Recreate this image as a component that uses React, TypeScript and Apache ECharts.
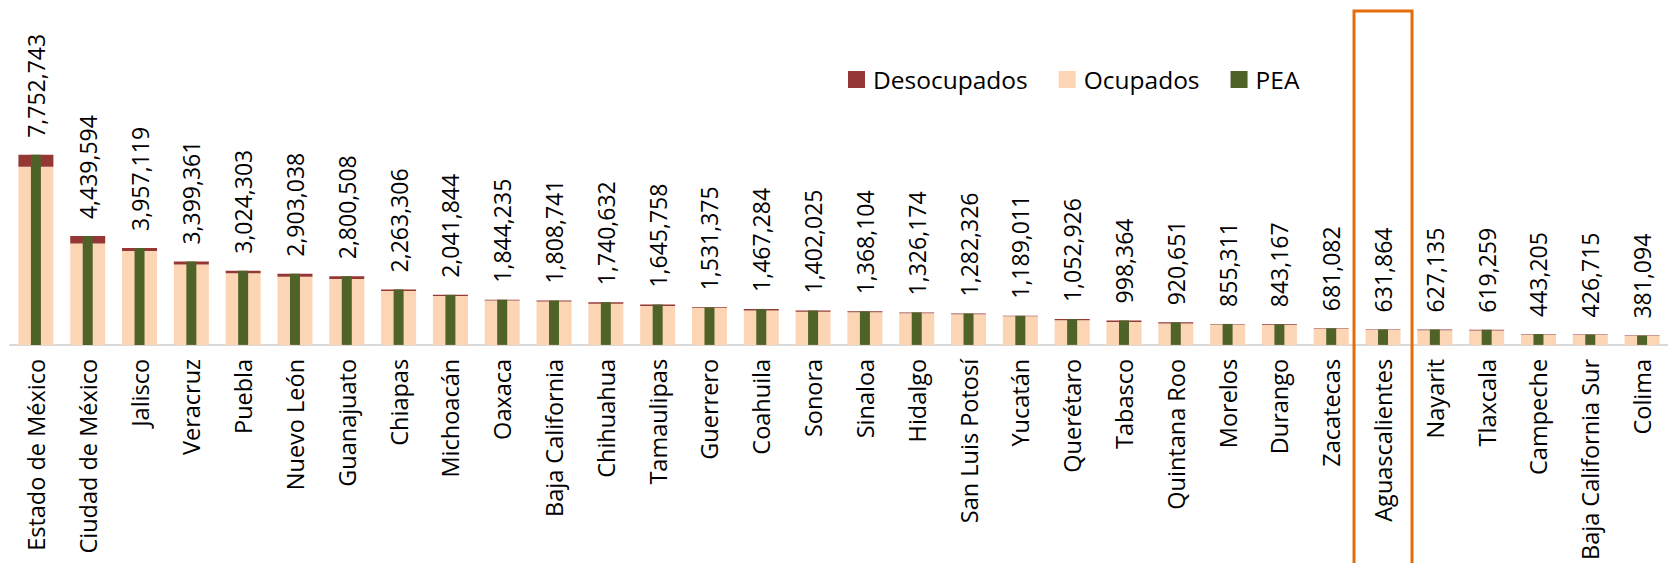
import React, { useEffect, useRef } from "react";
import * as echarts from "echarts";

const states = [
  "Estado de México", "Ciudad de México", "Jalisco", "Veracruz", "Puebla", "Nuevo León",
  "Guanajuato", "Chiapas", "Michoacán", "Oaxaca", "Baja California", "Chihuahua",
  "Tamaulipas", "Guerrero", "Coahuila", "Sonora", "Sinaloa", "Hidalgo", "San Luis Potosí",
  "Yucatán", "Querétaro", "Tabasco", "Quintana Roo", "Morelos", "Durango", "Zacatecas",
  "Aguascalientes", "Nayarit", "Tlaxcala", "Campeche", "Baja California Sur", "Colima",
];

const pea = [
  7752743, 4439594, 3957119, 3399361, 3024303, 2903038, 2800508, 2263306, 2041844, 1844235,
  1808741, 1740632, 1645758, 1531375, 1467284, 1402025, 1368104, 1326174, 1282326, 1189011,
  1052926, 998364, 920651, 855311, 843167, 681082, 631864, 627135, 619259, 443205, 426715,
  381094,
];

const desocupados = [
  480000, 300000, 125000, 115000, 105000, 120000, 110000, 65000, 50000, 35000,
  40000, 60000, 55000, 25000, 60000, 50000, 40000, 40000, 35000, 25000,
  50000, 60000, 45000, 25000, 35000, 25000, 25000, 25000, 30000, 15000, 20000,
  15000,
];

const ocupados = [
  7272743, 4139594, 3832119, 3284361, 2919303, 2783038, 2690508, 2198306, 1991844, 1809235,
  1768741, 1680632, 1590758, 1506375, 1407284, 1352025, 1328104, 1286174, 1247326, 1164011,
  1002926, 938364, 875651, 830311, 808167, 656082, 606864, 602135, 589259, 428205, 406715,
  366094,
];

const highlighted = "Aguascalientes";
const yMax = 13500000;
const FONT = "'Open Sans', sans-serif";

export default function App() {
  const ref = useRef<HTMLDivElement>(null);
  useEffect(() => {
    if (!ref.current) return;
    const chart = echarts.init(ref.current, null, { renderer: "svg" });
    chart.setOption({
      animation: false,
      textStyle: { fontFamily: FONT },
      legend: {
        data: ["Desocupados", "Ocupados", "PEA"],
        left: 843,
        top: 62,
        icon: "rect",
        itemWidth: 17,
        itemHeight: 17,
        itemGap: 31,
        textStyle: { fontSize: 24.5, color: "#000", fontFamily: FONT, padding: [0, 0, 0, 3] },
      },
      grid: { left: 10, width: 1668, top: 14, bottom: 215, containLabel: false },
      xAxis: [
        {
          type: "category",
          data: states,
          axisTick: { show: false },
          axisLine: { lineStyle: { color: "#d9d9d9", width: 2 } },
          axisLabel: {
            interval: 0,
            rotate: 90,
            margin: 14,
            fontSize: 23.5,
            color: "#000",
            fontFamily: FONT,
          },
        },
        { type: "category", data: states, show: false },
      ],
      yAxis: { type: "value", min: 0, max: yMax, show: false, splitLine: { show: false } },
      series: [
        {
          name: "Ocupados",
          type: "bar",
          stack: "total",
          barWidth: 35,
          data: ocupados,
          itemStyle: { color: "#fcd5b5" },
        },
        {
          name: "Desocupados",
          type: "bar",
          stack: "total",
          barWidth: 35,
          data: desocupados,
          itemStyle: { color: "#953735" },
        },
        {
          name: "PEA",
          type: "bar",
          xAxisIndex: 1,
          barWidth: 10,
          data: pea,
          itemStyle: { color: "#4f6228" },
          label: {
            show: true,
            position: "top",
            rotate: 90,
            align: "left",
            verticalAlign: "middle",
            distance: 17,
            fontSize: 23,
            color: "#000",
            fontFamily: FONT,
            formatter: (p: any) => Number(p.value).toLocaleString("en-US"),
          },
        },
      ],
    });
    const cx = chart.convertToPixel({ xAxisIndex: 0 }, highlighted) as number;
    chart.setOption({
      graphic: [
        {
          type: "rect",
          z: 100,
          shape: { x: cx - 29, y: 11, width: 58, height: 600 },
          style: { fill: "none", stroke: "#e46c0a", lineWidth: 3 },
        },
      ],
    });
    return () => chart.dispose();
  }, []);
  return (
    <div
      ref={ref}
      style={{ position: "absolute", left: 0, top: 0, width: 1668, height: 563 }}
    />
  );
}
